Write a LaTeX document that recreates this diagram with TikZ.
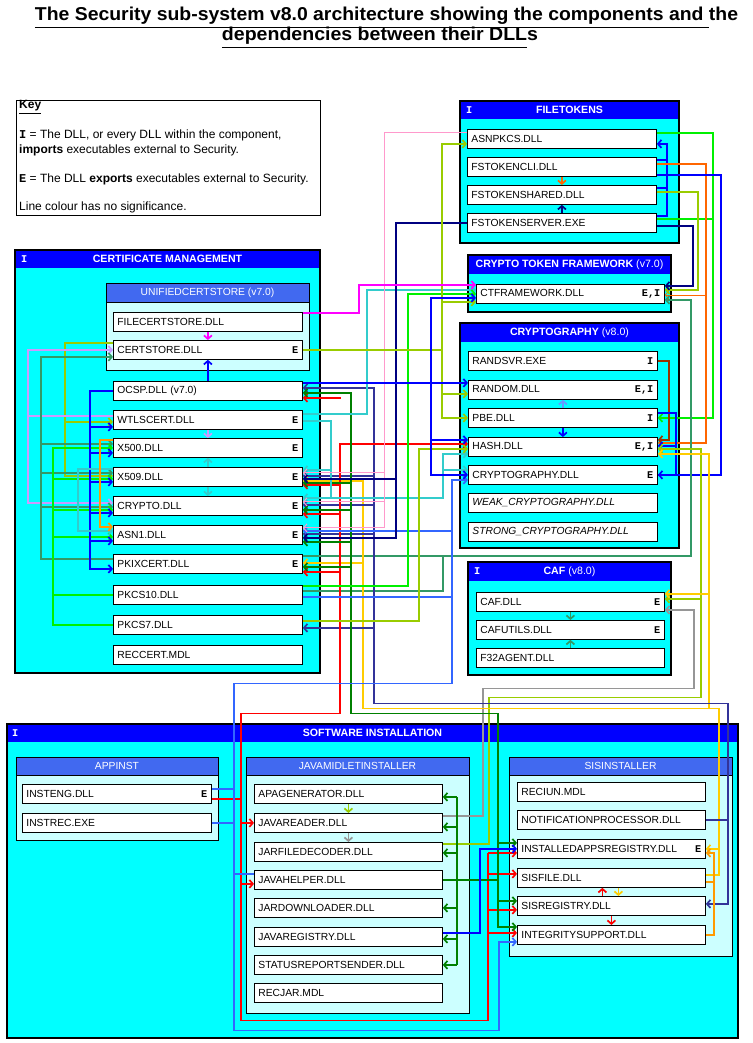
\documentclass[tikz,border=0pt]{standalone}
\usepackage{graphicx}
\usepackage{fontspec}
\setmainfont{Liberation Sans}
\newfontfamily\markfont{Liberation Mono}
\usetikzlibrary{arrows.meta,calc}
\definecolor{hdrblue}{RGB}{0,0,255}
\definecolor{compcyan}{RGB}{0,255,255}
\definecolor{subblue}{RGB}{65,105,240}
\definecolor{subcyan}{RGB}{204,255,255}
\definecolor{cbgreen}{RGB}{0,240,0}
\definecolor{clgreen}{RGB}{153,204,0}
\definecolor{cdgreen}{RGB}{0,128,0}
\definecolor{csgreen}{RGB}{51,153,102}
\definecolor{cred}{RGB}{255,0,0}
\definecolor{corange}{RGB}{255,102,0}
\definecolor{clorange}{RGB}{255,153,0}
\definecolor{cgold}{RGB}{255,204,0}
\definecolor{cblue}{RGB}{0,0,255}
\definecolor{cnavy}{RGB}{0,0,128}
\definecolor{cslate}{RGB}{51,51,153}
\definecolor{crblue}{RGB}{51,102,255}
\definecolor{clblue}{RGB}{102,153,255}
\definecolor{ccyan}{RGB}{51,204,204}
\definecolor{cpink}{RGB}{255,153,204}
\definecolor{clav}{RGB}{204,153,255}
\definecolor{cmag}{RGB}{255,0,255}
\definecolor{cbrown}{RGB}{153,51,0}
\definecolor{cgrey}{RGB}{150,150,150}
\newcommand\dllfont{\fontsize{10.3}{12}\selectfont}
\newcommand\keyfont{\fontsize{12}{14}\selectfont}
\newcommand\mk[1]{{\markfont\bfseries #1}}
\tikzset{
  compline/.style ={draw=black, line width=2pt},
  subline/.style  ={draw=black, line width=1pt},
  keybox/.style   ={draw=black, line width=0.8pt, fill=white},
  keytxt/.style   ={anchor=west, inner sep=0pt, font=\keyfont},
  hdrt/.style     ={text=white, inner sep=0pt, font=\fontsize{10.6}{12}\selectfont\bfseries},
  subt/.style     ={text=white, inner sep=0pt, font=\dllfont},
  hdrmk/.style    ={text=white, anchor=west, inner sep=0pt, font=\dllfont},
  dll/.style      ={draw=black, line width=0.8pt, fill=white, anchor=north west,
                    minimum height=19pt, inner xsep=4pt, inner ysep=0pt,
                    text width=181pt, align=left, font=\dllfont},
  dlls/.style     ={dll, text width=180pt},
  wl/.style       ={line width=1.7pt},
  wr/.style       ={wl, -{Straight Barb[length=3.5pt,width=8pt]}},
}

\begin{document}
\begin{tikzpicture}[x=1pt,y=-1pt]
  \useasboundingbox (0,0) rectangle (752,1043);
  % title
  \node (title1) at (386.5,18) {\resizebox{703pt}{13.5pt}{\bfseries\underline{The Security sub-system v8.0 architecture showing the components and }the}};
  \node (title2) at (380,38) {\resizebox{316pt}{13.5pt}{\bfseries\underline{dependencies between their DLL}s}};

  % key
  \draw[keybox] (16,100) rectangle (320,215);
  \node[keytxt] (keyhead) at (19,107) {\textbf{\underline{Key}}};
  \node[keytxt] (key1) at (19,135) {\mk{I} = The DLL, or every DLL within the component,};
  \node[keytxt] (key2) at (19,150) {\textbf{imports} executables external to Security.};
  \node[keytxt] (key3) at (19,179) {\mk{E} = The DLL \textbf{exports} executables external to Security.};
  \node[keytxt] (key4) at (19,207) {Line colour has no significance.};

  % filetokens
  \fill[compcyan] (460,101) rectangle (679,243);
  \fill[hdrblue] (460,101) rectangle (679,119);
  \draw[compline] (460,101) rectangle (679,243);
  \node[hdrmk] (ftI) at (466,110) {\mk{I}};
  \node[hdrt] (ftname) at (569.5,110) {FILETOKENS};
  \node[dll] (asnpkcs) at (467,129) {ASNPKCS.DLL};
  \node[dll] (fstcli) at (467,157) {FSTOKENCLI.DLL};
  \node[dll] (fstshared) at (467,185) {FSTOKENSHARED.DLL};
  \node[dll] (fstserver) at (467,213) {FSTOKENSERVER.EXE};

  % crypto token framework
  \fill[compcyan] (468,255) rectangle (671,312);
  \fill[hdrblue] (468,255) rectangle (671,274);
  \draw[compline] (468,255) rectangle (671,312);
  \node[hdrt] (ctfname) at (569.5,264.5) {CRYPTO TOKEN FRAMEWORK \mdseries(v7.0)};
  \node[dlls] (ctf) at (476,284) {CTFRAMEWORK.DLL\hfill\mk{E,I}\hspace*{6pt}};

  % cryptography
  \fill[compcyan] (460,323) rectangle (679,548);
  \fill[hdrblue] (460,323) rectangle (679,342);
  \draw[compline] (460,323) rectangle (679,548);
  \node[hdrt] (cgname) at (569.5,332.5) {CRYPTOGRAPHY \mdseries(v8.0)};
  \node[dll] (randsvr) at (468,351) {RANDSVR.EXE\hfill\mk{I}\hspace*{7pt}};
  \node[dll] (random) at (468,380) {RANDOM.DLL\hfill\mk{E,I}\hspace*{6pt}};
  \node[dll] (pbe) at (468,408) {PBE.DLL\hfill\mk{I}\hspace*{7pt}};
  \node[dll] (hash) at (468,437) {HASH.DLL\hfill\mk{E,I}\hspace*{6pt}};
  \node[dll] (cryptography) at (468,465) {CRYPTOGRAPHY.DLL\hfill\mk{E}\hspace*{7pt}};
  \node[dll] (weak) at (468,493) {\textit{WEAK\_CRYPTOGRAPHY.DLL}};
  \node[dll] (strong) at (468,522) {\textit{STRONG\_CRYPTOGRAPHY.DLL}};

  % caf
  \fill[compcyan] (468,562) rectangle (671,675);
  \fill[hdrblue] (468,562) rectangle (671,581);
  \draw[compline] (468,562) rectangle (671,675);
  \node[hdrmk] (cafI) at (474,571.5) {\mk{I}};
  \node[hdrt] (cafname) at (569.5,571.5) {CAF \mdseries(v8.0)};
  \node[dlls] (caf) at (476,592) {CAF.DLL\hfill\mk{E}\hspace*{7pt}};
  \node[dlls] (cafutils) at (476,620) {CAFUTILS.DLL\hfill\mk{E}\hspace*{7pt}};
  \node[dlls] (f32) at (476,648) {F32AGENT.DLL};

  % certificate management
  \fill[compcyan] (15,250) rectangle (320,673);
  \fill[hdrblue] (15,250) rectangle (320,268);
  \draw[compline] (15,250) rectangle (320,673);
  \node[hdrmk] (cmI) at (21,259) {\mk{I}};
  \node[hdrt] (cmname) at (167.5,259) {CERTIFICATE MANAGEMENT};
  \fill[subcyan] (106,283) rectangle (309,370);
  \filldraw[subline,fill=subblue] (106,283) rectangle (309,302);
  \draw[subline] (106,283) rectangle (309,370);
  \node[subt] (ucsname) at (207.5,292.5) {UNIFIEDCERTSTORE (v7.0)};
  \node[dll] (filecert) at (113,312) {FILECERTSTORE.DLL};
  \node[dll] (certstore) at (113,340) {CERTSTORE.DLL\hfill\mk{E}\hspace*{7pt}};
  \node[dll] (ocsp) at (113,381) {OCSP.DLL (v7.0)};
  \node[dll] (wtls) at (113,410) {WTLSCERT.DLL\hfill\mk{E}\hspace*{7pt}};
  \node[dll] (x500) at (113,438) {X500.DLL\hfill\mk{E}\hspace*{7pt}};
  \node[dll] (x509) at (113,467) {X509.DLL\hfill\mk{E}\hspace*{7pt}};
  \node[dll] (crypto) at (113,496) {CRYPTO.DLL\hfill\mk{E}\hspace*{7pt}};
  \node[dll] (asn1) at (113,525) {ASN1.DLL\hfill\mk{E}\hspace*{7pt}};
  \node[dll] (pkix) at (113,554) {PKIXCERT.DLL\hfill\mk{E}\hspace*{7pt}};
  \node[dll] (pkcs10) at (113,585) {PKCS10.DLL};
  \node[dll] (pkcs7) at (113,615) {PKCS7.DLL};
  \node[dll] (reccert) at (113,645) {RECCERT.MDL};

  % software installation
  \fill[compcyan] (7,724) rectangle (738,1038);
  \fill[hdrblue] (7,724) rectangle (738,742);
  \draw[compline] (7,724) rectangle (738,1038);
  \node[hdrmk] (siI) at (12,733) {\mk{I}};
  \node[hdrt] (siname) at (372.5,733) {SOFTWARE INSTALLATION};
  \fill[subcyan] (16,757) rectangle (218,840);
  \filldraw[subline,fill=subblue] (16,757) rectangle (218,775);
  \draw[subline] (16,757) rectangle (218,840);
  \node[subt] (apname) at (117,766) {APPINST};
  \node[dll] (insteng) at (22,784) {INSTENG.DLL\hfill\mk{E}\hspace*{7pt}};
  \node[dll] (instrec) at (22,813) {INSTREC.EXE};
  \fill[subcyan] (246,757) rectangle (469,1013);
  \filldraw[subline,fill=subblue] (246,757) rectangle (469,775);
  \draw[subline] (246,757) rectangle (469,1013);
  \node[subt] (jmname) at (357.5,766) {JAVAMIDLETINSTALLER};
  \node[dlls] (apagen) at (254,784) {APAGENERATOR.DLL};
  \node[dlls] (javareader) at (254,813) {JAVAREADER.DLL};
  \node[dlls] (jarfile) at (254,842) {JARFILEDECODER.DLL};
  \node[dlls] (javahelper) at (254,870) {JAVAHELPER.DLL};
  \node[dlls] (jardown) at (254,898) {JARDOWNLOADER.DLL};
  \node[dlls] (javareg) at (254,927) {JAVAREGISTRY.DLL};
  \node[dlls] (statusrep) at (254,955) {STATUSREPORTSENDER.DLL};
  \node[dlls] (recjar) at (254,983) {RECJAR.MDL};
  \fill[subcyan] (509,757) rectangle (732,956);
  \filldraw[subline,fill=subblue] (509,757) rectangle (732,775);
  \draw[subline] (509,757) rectangle (732,956);
  \node[subt] (sisname) at (620.5,766) {SISINSTALLER};
  \node[dlls] (reciun) at (517,782) {RECIUN.MDL};
  \node[dlls] (notif) at (517,810) {NOTIFICATIONPROCESSOR.DLL};
  \node[dlls] (instapps) at (517,839) {INSTALLEDAPPSREGISTRY.DLL\hfill\mk{E}\hspace*{7pt}};
  \node[dlls] (sisfile) at (517,868) {SISFILE.DLL};
  \node[dlls] (sisreg) at (517,896) {SISREGISTRY.DLL};
  \node[dlls] (integ) at (517,925) {INTEGRITYSUPPORT.DLL};

  % filetokens wires
  \draw[wr,corange] (fstcli.south) -- (fstshared.north);
  \draw[wr,cnavy] (fstserver.north) -- (fstshared.south);
  \draw[wr,cblue] ($(fstcli.east)+(0,-7)$) -- ++(10,0) |- ($(asnpkcs.east)+(0,5)$);
  \draw[wl,cblue] ($(fstshared.east)+(0,-7)$) -- ++(10,0) -- ++(0,-28);
  \draw[wl,cblue] ($(fstserver.east)+(0,-7)$) -- ++(10,0) -- ++(0,-28);
  \draw[wr,cbgreen] ($(asnpkcs.east)+(0,-6)$) -- ++(56,0) |- (pbe.east);
  \draw[wl,cbgreen] ($(fstserver.east)+(0,-4)$) -- ++(56,0);
  \draw[wr,corange] ($(fstcli.east)+(0,-3)$) -- ++(49,0) |- ($(hash.east)+(0,-4)$);
  \draw[wr,corange,line width=0.8pt] ($(ctf.east)+(41,1)$) -- ($(ctf.east)+(0,1)$);
  \draw[wr,cblue] ($(fstcli.east)+(0,8)$) -- ++(64,0) |- (cryptography.east);
  \draw[wr,clgreen] ($(fstshared.east)+(0,-3)$) -- ++(41,0) |- ($(ctf.east)+(0,-4)$);
  \draw[wr,cnavy] ($(fstserver.east)+(0,3)$) -- ++(36,0) |- ($(ctf.east)+(0,-8)$);

  % cryptography wires
  \draw[wr,cbrown] (randsvr.east) -- ++(11,0) |- ($(hash.east)+(0,-7)$);
  \draw[wr,cblue] ($(pbe.east)+(0,-5)$) -- ++(18,0) |- ($(hash.east)+(0,-1)$);
  \draw[wl,cblue] ($(pbe.east)+(18,-5)$) |- (cryptography.east);
  \draw[wr,clblue] (pbe.north) -- (random.south);
  \draw[wr,cblue] (pbe.south) -- (hash.north);

  % ctf and caf wires
  \draw[wr,csgreen] ($(pkix.east)+(0,-8)$) -- ++(388,0) |- ($(ctf.east)+(0,6)$);
  \draw[wl,csgreen] ($(pkcs10.east)+(0,-4)$) -- ++(140,0) -- ++(0,-35);
  \draw[wr,csgreen] (caf.south) -- (cafutils.north);
  \draw[wr,csgreen] (f32.north) -- (cafutils.south);
  \draw[wr,clgreen] ($(jarfile.east)+(0,-8)$) -- ++(46,0) -- ++(0,-146.5) -- ++(212,0) |- ($(hash.east)+(0,2)$);
  \draw[wr,clgreen] ($(caf.east)+(36,-3)$) -- ($(caf.east)+(0,-3)$);
  \draw[wr,cgrey] ($(javareader.east)+(0,-7)$) -- ++(40,0) -- ++(0,-127.5) -- ++(211,0) |- ($(caf.east)+(0,8)$);

  % sisfile (gold)
  \draw[wr,cgold] ($(sisfile.east)+(0,-3)$) -- ++(13,0) -- ++(0,-166.5) -| ($(x509.east)+(60,4)$) -- ($(x509.east)+(0,4)$);
  \draw[wr,cgold] ($(pkix.east)+(60,-1)$) -- ($(pkix.east)+(0,-1)$);
  \draw[wr,cgold] ($(sisfile.east)+(3,-169.5)$) |- ($(hash.east)+(0,7)$);
  \draw[wr,cgold] ($(caf.east)+(44,-8)$) -- ($(caf.east)+(0,-8)$);
  \draw[wr,cgold] ($(instapps.east)+(13,0)$) -- (instapps.east);

  % notificationprocessor (slate)
  \draw[wr,cslate] (notif.east) -- ++(22,0) -- ++(0,-116.5) -| ($(ocsp.east)+(71,-3)$) -- ($(ocsp.east)+(0,-3)$);
  \draw[wr,cslate] ($(notif.east)+(22,0)$) |- ($(sisreg.east)+(0,-2)$);
  \draw[wr,cslate] ($(x509.east)+(71,-1)$) -- ($(x509.east)+(0,-1)$);
  \draw[wr,cslate] ($(crypto.east)+(71,-1)$) -- ($(crypto.east)+(0,-1)$);
  \draw[wr,cslate] ($(asn1.east)+(71,-1)$) -- ($(asn1.east)+(0,-1)$);
  \draw[wr,cslate] ($(pkcs7.east)+(71,3)$) -- ($(pkcs7.east)+(0,3)$);

  % insteng (red)
  \draw[wr,cred] ($(insteng.east)+(0,5)$) -- ++(29,0) -- ++(0,-85.5) -| ($(hash.west)+(-128,-3)$) -- ($(hash.west)+(0,-3)$);
  \draw[wr,cred] ($(ocsp.east)+(38,7)$) -- ($(ocsp.east)+(0,7)$);
  \draw[wr,cred] ($(x509.east)+(38,8)$) -- ($(x509.east)+(0,8)$);
  \draw[wr,cred] ($(crypto.east)+(38,8)$) -- ($(crypto.east)+(0,8)$);
  \draw[wr,cred] ($(pkix.east)+(38,8)$) -- ($(pkix.east)+(0,8)$);
  \draw[wl,cred] ($(insteng.east)+(29,5)$) -- ++(0,221.5) -| ($(instapps.west)+(-29,4)$);
  \draw[wr,cred] ($(javareader.west)+(-14,0)$) -- (javareader.west);
  \draw[wr,cred] ($(javahelper.west)+(-14,4)$) -- ($(javahelper.west)+(0,4)$);
  \draw[wr,cred] ($(instapps.west)+(-29,4)$) -- ($(instapps.west)+(0,4)$);
  \draw[wr,cred] ($(sisfile.west)+(-29,-4)$) -- ($(sisfile.west)+(0,-4)$);
  \draw[wr,cred] ($(sisreg.west)+(-29,4)$) -- ($(sisreg.west)+(0,4)$);
  \draw[wr,cred] ($(integ.west)+(-29,-2)$) -- ($(integ.west)+(0,-2)$);
  \draw[wr,cred] ($(sisreg.north)+(-9,0)$) -- ($(sisfile.south)+(-9,0)$);
  \draw[wr,cred] (sisreg.south) -- (integ.north);
  \draw[wr,cgold] ($(sisfile.south)+(7,0)$) -- ($(sisreg.north)+(7,0)$);

  % javahelper (dark green)
  \draw[wr,cdgreen] (javahelper.east) -- ++(55,0) -- ++(0,-166.5) -| ($(ocsp.east)+(48,2)$) -- ($(ocsp.east)+(0,2)$);
  \draw[wr,cdgreen] ($(x509.east)+(48,6)$) -- ($(x509.east)+(0,6)$);
  \draw[wr,cdgreen] ($(crypto.east)+(48,4)$) -- ($(crypto.east)+(0,4)$);
  \draw[wr,cdgreen] ($(asn1.east)+(48,7)$) -- ($(asn1.east)+(0,7)$);
  \draw[wr,cdgreen] ($(pkix.east)+(48,3)$) -- ($(pkix.east)+(0,3)$);
  \draw[wl,cdgreen] ($(javahelper.east)+(55,0)$) -- ++(0,47);
  \draw[wr,cdgreen] ($(instapps.west)+(-20,-6)$) -- ($(instapps.west)+(0,-6)$);
  \draw[wr,cdgreen] ($(sisreg.west)+(-20,-5)$) -- ($(sisreg.west)+(0,-5)$);
  \draw[wr,cdgreen] ($(integ.west)+(-20,-8)$) -- ($(integ.west)+(0,-8)$);
  \draw[wl,cdgreen] ($(apagen.east)+(14,3)$) -- ($(statusrep.east)+(14,0)$);
  \draw[wr,cdgreen] ($(apagen.east)+(14,3)$) -- ($(apagen.east)+(0,3)$);
  \draw[wr,cdgreen] ($(javareader.east)+(14,4)$) -- ($(javareader.east)+(0,4)$);
  \draw[wr,cdgreen] ($(jarfile.east)+(14,1)$) -- ($(jarfile.east)+(0,1)$);
  \draw[wr,cdgreen] ($(jardown.east)+(14,0)$) -- (jardown.east);
  \draw[wr,cdgreen] ($(javareg.east)+(14,2)$) -- ($(javareg.east)+(0,2)$);
  \draw[wr,cdgreen] ($(statusrep.east)+(14,0)$) -- (statusrep.east);
  \draw[wr,cblue] ($(javareg.east)+(0,-4)$) -- ++(37,0) |- (instapps.west);
  \draw[wr,clgreen] (apagen.south) -- (javareader.north);
  \draw[wr,cgrey] (javareader.south) -- (jarfile.north);

  % appinst (royal blue)
  \draw[wr,crblue] ($(insteng.east)+(0,-5)$) -- ++(22,0) -- ++(0,-105.5) -| ($(cryptography.west)+(-16,5)$) -- ($(cryptography.west)+(0,5)$);
  \draw[wl,crblue] (instrec.east) -- ++(22,0) -- ++(0,-34);
  \draw[wr,crblue] ($(instrec.east)+(22,0)$) -- ++(0,207.5) -| ($(integ.west)+(-18,7)$) -- ($(integ.west)+(0,7)$);
  \draw[wl,crblue] ($(javahelper.west)+(-21,-6)$) -- ($(javahelper.west)+(0,-6)$);
  \draw[wr,crblue] ($(asn1.east)+(150,-4)$) -- ($(asn1.east)+(0,-4)$);
  \draw[wl,crblue] ($(pkcs10.east)+(150,2)$) -- ($(pkcs10.east)+(0,2)$);
  \draw[wr,clorange] (integ.east) -- ++(8,0) |- ($(instapps.east)+(0,4)$);
  \draw[wl,clorange] ($(sisfile.east)+(0,4)$) -- ++(8,0);

  % certificate management, right side
  \draw[wr,ccyan] ($(wtls.east)+(0,-6)$) -- ++(64,0) |- ($(ctf.west)+(0,-4)$);
  \draw[wr,ccyan] ($(wtls.east)+(0,1)$) -- ++(28,0) |- ($(hash.west)+(-25,51)$) |- ($(hash.west)+(0,7)$);
  \draw[wr,ccyan] ($(x509.east)+(28,-7)$) -- ($(x509.east)+(0,-7)$);
  \draw[wr,ccyan] ($(crypto.east)+(28,-8)$) -- ($(crypto.east)+(0,-8)$);
  \draw[wr,ccyan] ($(cryptography.west)+(-25,-5)$) -- ($(cryptography.west)+(0,-5)$);
  \draw[wr,cpink,line width=1pt] ($(asnpkcs.west)+(0,-6)$) -- ++(-83,0) |- ($(asn1.east)+(0,-7)$);
  \draw[wr,cpink,line width=1pt] ($(x509.east)+(82,-4)$) -- ($(x509.east)+(0,-4)$);
  \draw[wr,cpink,line width=1pt] ($(crypto.east)+(82,-4)$) -- ($(crypto.east)+(0,-4)$);
  \draw[wr,cnavy] (fstserver.west) -- ++(-71,0) |- ($(asn1.east)+(0,3)$);
  \draw[wr,cnavy] ($(x509.east)+(94,2)$) -- ($(x509.east)+(0,2)$);
  \draw[wr,cbgreen] ($(pkcs10.east)+(0,-9)$) -- ++(105,0) |- (ctf.west);
  \draw[wr,clgreen] ($(pkcs7.east)+(0,-4)$) -- ++(116,0) |- ($(hash.west)+(0,2)$);
  \draw[wr,clgreen] (certstore.east) -- ++(139,0) |- ($(asnpkcs.west)+(0,5)$);
  \draw[wr,clgreen] ($(certstore.east)+(139,0)$) |- ($(ctf.west)+(0,8)$);
  \draw[wr,clgreen] ($(certstore.east)+(139,0)$) |- ($(random.west)+(0,4)$);
  \draw[wr,clgreen] ($(certstore.east)+(139,0)$) |- (pbe.west);
  \draw[wr,cmag] ($(filecert.east)+(0,-9)$) -- ++(56,0) |- ($(ctf.west)+(0,-9)$);
  \draw[wr,cblue] ($(ocsp.east)+(0,-8)$) -- ($(random.west)+(0,-7)$);
  \draw[wr,cblue] ($(ocsp.east)+(128,-8)$) |- ($(ctf.west)+(0,4)$);
  \draw[wr,cblue] ($(ocsp.east)+(128,-8)$) |- ($(hash.west)+(0,-7)$);
  \draw[wr,cblue] ($(ocsp.east)+(128,-8)$) |- (cryptography.west);

  % certificate management, inside
  \draw[wr,cmag] (filecert.south) -- (certstore.north);
  \draw[wr,cblue] (ocsp.north) -- (certstore.south);
  \draw[wr,clav] (wtls.south) -- (x500.north);
  \draw[wr,ccyan] (x509.north) -- (x500.south);
  \draw[wr,ccyan] (x509.south) -- (crypto.north);

  % certificate management, left side
  \draw[wr,clgreen] ($(certstore.west)+(0,-7)$) -- ++(-48,0) |- ($(wtls.west)+(0,2)$);
  \draw[wr,clgreen] ($(certstore.west)+(-48,-7)$) |- ($(x509.west)+(0,-1)$);
  \draw[wr,clav] ($(wtls.west)+(0,-4)$) -- ++(-85,0) |- (certstore.west);
  \draw[wr,clav] ($(wtls.west)+(-85,-4)$) |- ($(crypto.west)+(0,-3)$);
  \draw[wr,csgreen] ($(pkix.west)+(0,-5)$) -- ++(-72,0) |- ($(certstore.west)+(0,7)$);
  \draw[wr,csgreen] ($(x500.west)+(-72,-4)$) -- ($(x500.west)+(0,-4)$);
  \draw[wr,csgreen] ($(x509.west)+(-72,-4)$) -- ($(x509.west)+(0,-4)$);
  \draw[wr,csgreen] ($(crypto.west)+(-72,1)$) -- ($(crypto.west)+(0,1)$);
  \draw[wr,cbgreen] (pkcs7.west) -- ++(-60,0) |- (x500.west);
  \draw[wl,cbgreen] (pkcs10.west) -- ++(-60,0);
  \draw[wr,cbgreen] ($(x509.west)+(-60,2)$) -- ($(x509.west)+(0,2)$);
  \draw[wr,cbgreen] ($(crypto.west)+(-60,4)$) -- ($(crypto.west)+(0,4)$);
  \draw[wr,cbgreen] ($(asn1.west)+(-60,2)$) -- ($(asn1.west)+(0,2)$);
  \draw[wr,cblue] (ocsp.west) -- ++(-23,0) |- ($(pkix.west)+(0,5)$);
  \draw[wr,cblue] ($(wtls.west)+(-23,7)$) -- ($(wtls.west)+(0,7)$);
  \draw[wr,cblue] ($(x500.west)+(-23,5)$) -- ($(x500.west)+(0,5)$);
  \draw[wr,cblue] ($(x509.west)+(-23,5)$) -- ($(x509.west)+(0,5)$);
  \draw[wr,cblue] ($(crypto.west)+(-23,7)$) -- ($(crypto.west)+(0,7)$);
  \draw[wr,cblue] ($(asn1.west)+(-23,6)$) -- ($(asn1.west)+(0,6)$);
  \draw[wr,ccyan] ($(x509.west)+(0,-8)$) -- ++(-35,0) |- ($(asn1.west)+(0,-4)$);
  \draw[wr,clorange] ($(x500.west)+(0,-8)$) -- ++(-13,0) |- ($(asn1.west)+(0,-8)$);
\end{tikzpicture}
\end{document}
